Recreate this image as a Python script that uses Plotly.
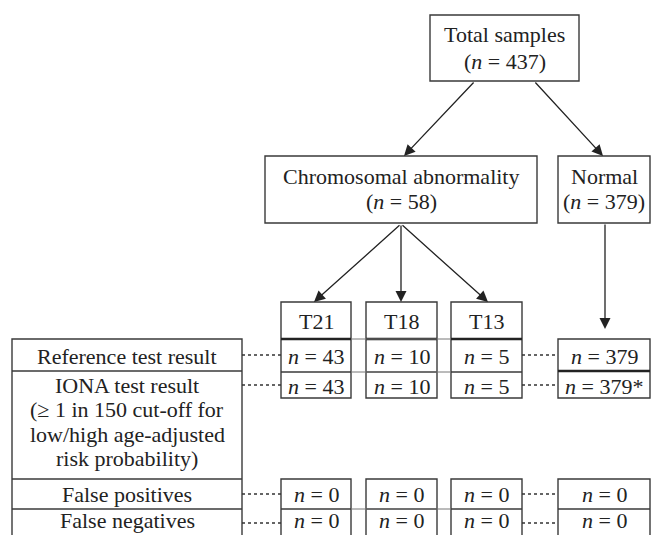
import plotly.graph_objects as go

# ---------------- data ----------------
total_label = "Total samples"
total_n = 437
abnormal_label = "Chromosomal abnormality"
abnormal_n = 58
normal_label = "Normal"
normal_n = 379

subtypes = ["T21", "T18", "T13"]
reference_n = [43, 10, 5]
iona_n = [43, 10, 5]
false_pos_n = [0, 0, 0]
false_neg_n = [0, 0, 0]

normal_reference = "379"
normal_iona = "379*"
normal_false_pos = "0"
normal_false_neg = "0"

row_labels = [
    ["Reference test result"],
    ["IONA test result", "(≥ 1 in 150 cut-off for", "low/high age-adjusted", "risk probability)"],
    ["False positives"],
    ["False negatives"],
]

# ---------------- layout constants ----------------
W, H = 651, 535
FONT = "Liberation Serif"
FS = 22
TXT = "#222222"
LC = "#3a3a3a"
LW = 1.4
FN_Y = 520.5

shapes = []
annotations = []


def rect(x0, y0, x1, y1, w=LW):
    shapes.append(dict(type="rect", xref="x", yref="y", x0=x0, y0=y0, x1=x1, y1=y1,
                       line=dict(color=LC, width=w), fillcolor="rgba(0,0,0,0)"))


def hline(x0, x1, y, w=LW, dash="solid", color=LC):
    shapes.append(dict(type="line", xref="x", yref="y", x0=x0, y0=y, x1=x1, y1=y,
                       line=dict(color=color, width=w, dash=dash)))


def text(x, y, s, size=FS):
    annotations.append(dict(x=x, y=y, xref="x", yref="y", text=s, showarrow=False,
                            font=dict(family=FONT, size=size, color=TXT),
                            xanchor="center", yanchor="middle"))


def arrow(x0, y0, x1, y1):
    annotations.append(dict(x=x1, y=y1, ax=x0, ay=y0, xref="x", yref="y",
                            axref="x", ayref="y", text="", showarrow=True,
                            arrowhead=2, arrowsize=1.7, arrowwidth=1.3,
                            arrowcolor="#222222", standoff=0))


def nfmt(v):
    return "<i>n</i> = " + str(v)


# top box
rect(430, 15, 579, 81)
text(504.5, 34, total_label)
text(504.5, 61, "(" + nfmt(total_n) + ")")

# second level
rect(265, 156, 537, 223)
text(401, 176, abnormal_label)
text(401, 201, "(" + nfmt(abnormal_n) + ")")
rect(558, 156, 650, 223)
text(604, 176, normal_label)
text(604, 201, "(" + nfmt(normal_n) + ")")

arrow(475, 81, 404, 156)
arrow(534, 81, 603, 156)

# subtype columns
col_x = [(281, 351), (366, 437), (451, 522)]
tips = [314, 401, 488]
for tip in tips:
    arrow(401, 224, tip, 302)
for (x0, x1), name, r, i, fp, fn in zip(col_x, subtypes, reference_n, iona_n, false_pos_n, false_neg_n):
    cx = (x0 + x1) / 2
    rect(x0, 302, x1, 398)
    hline(x0, x1, 339, w=2.4, color="#222222")
    hline(x0, x1, 372)
    text(cx, 321, name)
    text(cx, 356, nfmt(r))
    text(cx, 386, nfmt(i))
    rect(x0, 479, x1, 545)
    hline(x0, x1, 509)
    text(cx, 494, nfmt(fp))
    text(cx, FN_Y, nfmt(fn))

# thin connectors across column gaps
hline(351, 451, 339, w=1.0, color="#777777")
hline(351, 451, 372, w=1.0, color="#777777")
hline(351, 451, 509, w=1.0, color="#777777")

# normal column
arrow(605, 223, 605, 329)
rect(558, 339, 650, 398)
hline(558, 650, 371, w=2.4, color="#222222")
text(604, 356, nfmt(normal_reference))
text(604, 386, nfmt(normal_iona))
rect(558, 479, 650, 545)
hline(558, 650, 509)
text(604, 494, nfmt(normal_false_pos))
text(604, FN_Y, nfmt(normal_false_neg))

# left label table
rect(12, 339, 242, 545)
hline(12, 242, 371)
hline(12, 242, 479)
hline(12, 242, 509)
text(127, 356, row_labels[0][0])
for k, s in enumerate(row_labels[1]):
    text(127, 385 + k * 24.5, s)
text(127, 494, row_labels[2][0])
text(127, FN_Y, row_labels[3][0])

# dotted leaders
for y in [355, 385, 494, 523]:
    hline(242, 281, y, w=1.3, dash="dot", color="#333333")
    hline(522, 558, y, w=1.3, dash="dot", color="#333333")

fig = go.Figure()
fig.update_layout(
    width=W, height=H,
    margin=dict(l=0, r=0, t=0, b=0),
    paper_bgcolor="white", plot_bgcolor="white",
    xaxis=dict(range=[0, W], visible=False, fixedrange=True),
    yaxis=dict(range=[H, 0], visible=False, fixedrange=True),
    shapes=shapes,
    annotations=annotations,
    showlegend=False,
)
fig.write_html(
    "out.html",
    post_script="document.body.style.margin='0';document.body.style.padding='0';"
                "document.body.style.overflow='hidden';",
    config={"displayModeBar": False},
)
